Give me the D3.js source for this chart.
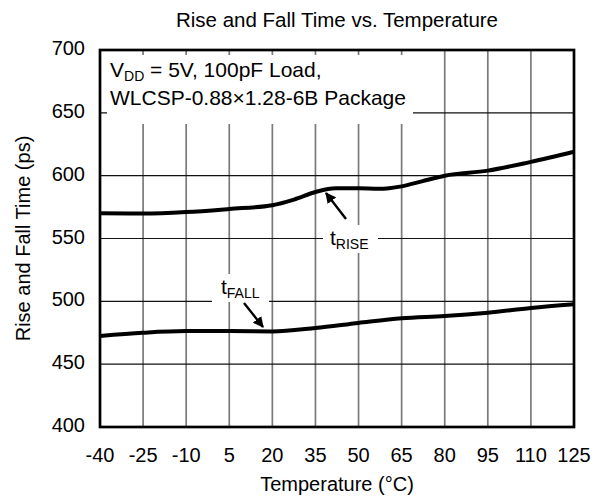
<!DOCTYPE html>
<html>
<head>
<meta charset="utf-8">
<script src="https://cdn.jsdelivr.net/npm/d3@7"></script>
<style>
  body { margin: 0; background: #fff; }
  text { font-family: Arial, "Liberation Sans", sans-serif; fill: #000; }
</style>
</head>
<body>
<div id="chart"></div>
<script>
// values
const xTicks = [-40, -25, -10, 5, 20, 35, 50, 65, 80, 95, 110, 125];
const yTicks = [400, 450, 500, 550, 600, 650, 700];

const riseTemp = [-40, -25, -10, 5, 20, 27.5, 35, 42, 50, 57, 65, 72, 80, 95, 110, 125];
const riseVal = [570, 569.8, 571, 573.5, 576.5, 581, 587, 590, 590, 589.5, 591.5, 595.5, 600, 604, 611, 619];

const fallTemp = [-40, -25, -10, 5, 20, 35, 50, 65, 80, 95, 110, 125];
const fallVal = [472.5, 475, 476.3, 476.3, 476, 478.8, 482.8, 486.5, 488.3, 491, 494.7, 497.6];

const width = 601;
const height = 500;
const margin = { top: 50, right: 27, bottom: 73, left: 100 };

const x = d3.scaleLinear().domain([-40, 125]).range([margin.left, width - margin.right]);
const y = d3.scaleLinear().domain([400, 700]).range([height - margin.bottom, margin.top]);

const svg = d3.select("#chart")
    .append("svg")
    .attr("width", width)
    .attr("height", height);

// grid
svg.append("g")
    .selectAll("line")
    .data(xTicks.slice(1, -1))
    .enter()
    .append("line")
    .attr("x1", (d) => x(d))
    .attr("x2", (d) => x(d))
    .attr("y1", y(700))
    .attr("y2", y(400))
    .attr("stroke", "#7a7a7a")
    .attr("stroke-width", 1.7);

svg.append("g")
    .selectAll("line")
    .data(yTicks.slice(1, -1))
    .enter()
    .append("line")
    .attr("x1", x(-40))
    .attr("x2", x(125))
    .attr("y1", (d) => y(d))
    .attr("y2", (d) => y(d))
    .attr("stroke", "#111")
    .attr("stroke-width", 1.2);

// white box behind the condition text
svg.append("rect")
    .attr("x", x(-40) + 7)
    .attr("y", y(700) + 5)
    .attr("width", 306)
    .attr("height", 69)
    .attr("fill", "#fff");

// curves
const line = d3.line()
    .x((d) => x(d[0]))
    .y((d) => y(d[1]))
    .curve(d3.curveMonotoneX);

svg.append("path")
    .datum(d3.zip(riseTemp, riseVal))
    .attr("d", line)
    .attr("fill", "none")
    .attr("stroke", "#000")
    .attr("stroke-width", 4);

svg.append("path")
    .datum(d3.zip(fallTemp, fallVal))
    .attr("d", line)
    .attr("fill", "none")
    .attr("stroke", "#000")
    .attr("stroke-width", 4);

// frame
svg.append("rect")
    .attr("x", x(-40))
    .attr("y", y(700))
    .attr("width", x(125) - x(-40))
    .attr("height", y(400) - y(700))
    .attr("fill", "none")
    .attr("stroke", "#000")
    .attr("stroke-width", 2.7);

// tick labels
svg.append("g")
    .selectAll("text")
    .data(xTicks)
    .enter()
    .append("text")
    .attr("x", (d) => x(d))
    .attr("y", 462)
    .attr("text-anchor", "middle")
    .style("font-size", "20px")
    .text((d) => d);

svg.append("g")
    .selectAll("text")
    .data(yTicks)
    .enter()
    .append("text")
    .attr("x", 85)
    .attr("y", (d) => y(d) + 5)
    .attr("text-anchor", "end")
    .style("font-size", "20px")
    .text((d) => d);

// titles
svg.append("text")
    .attr("x", (x(-40) + x(125)) / 2)
    .attr("y", 27)
    .attr("text-anchor", "middle")
    .style("font-size", "20.5px")
    .text("Rise and Fall Time vs. Temperature");

svg.append("text")
    .attr("x", (x(-40) + x(125)) / 2)
    .attr("y", 491)
    .attr("text-anchor", "middle")
    .style("font-size", "20px")
    .text("Temperature (°C)");

svg.append("text")
    .attr("transform", `translate(30,${(y(400) + y(700)) / 2}) rotate(-90)`)
    .attr("text-anchor", "middle")
    .style("font-size", "20px")
    .text("Rise and Fall Time (ps)");

// condition text
const cond = svg.append("text")
    .attr("x", 110)
    .attr("y", 77)
    .style("font-size", "21px");
cond.append("tspan").text("V");
cond.append("tspan").attr("dy", 4).style("font-size", "14px").text("DD");
cond.append("tspan").attr("dy", -4).text(" = 5V, 100pF Load,");

svg.append("text")
    .attr("x", 110)
    .attr("y", 105)
    .style("font-size", "21px")
    .text("WLCSP-0.88×1.28-6B Package");

// curve labels with arrows
svg.append("defs").append("marker")
    .attr("id", "head")
    .attr("viewBox", "0 0 10 10")
    .attr("refX", 9)
    .attr("refY", 5)
    .attr("markerWidth", 4.5)
    .attr("markerHeight", 4.5)
    .attr("orient", "auto")
    .append("path")
    .attr("d", "M0,0L10,5L0,10z")
    .attr("fill", "#000");

function label(tx, ty, sub, gx0, gx1, ax1, ay1, ax2, ay2) {
    svg.append("rect")
        .attr("x", gx0)
        .attr("y", ty - 20)
        .attr("width", gx1 - gx0)
        .attr("height", 28)
        .attr("fill", "#fff");
    const t = svg.append("text")
        .attr("x", tx)
        .attr("y", ty)
        .style("font-size", "21px");
    t.append("tspan").text("t");
    t.append("tspan").attr("dy", 4).style("font-size", "14px").text(sub);
    svg.append("line")
        .attr("x1", ax1)
        .attr("y1", ay1)
        .attr("x2", ax2)
        .attr("y2", ay2)
        .attr("stroke", "#000")
        .attr("stroke-width", 2.4)
        .attr("marker-end", "url(#head)");
}

label(330, 245, "RISE", 323, 378, 346, 219, 326, 193);
label(221, 294, "FALL", 212, 269, 244, 303, 263, 327);
</script>
</body>
</html>
